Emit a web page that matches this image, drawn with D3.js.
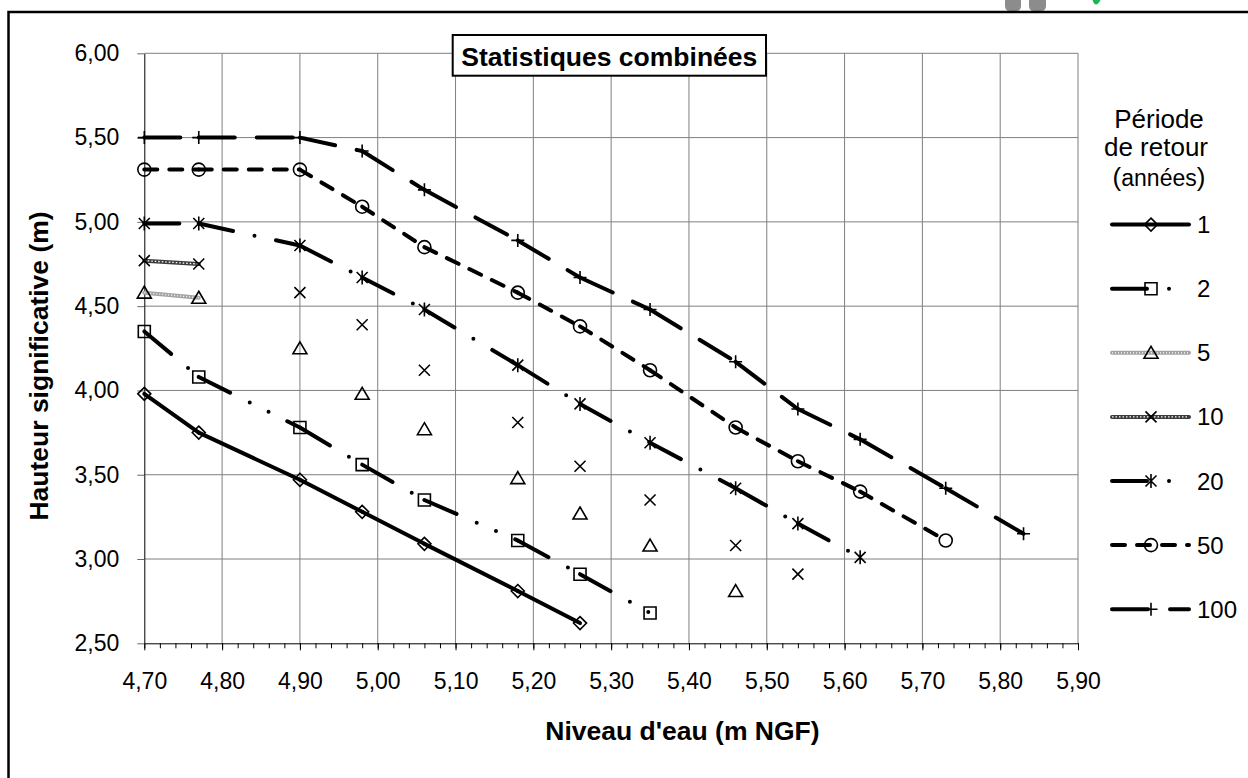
<!DOCTYPE html>
<html>
<head>
<meta charset="utf-8">
<script src="https://cdn.jsdelivr.net/npm/d3@7"></script>
<style>
body { margin: 0; background: #fff; }
svg { display: block; font-family: "Liberation Sans", Arial, sans-serif; }
</style>
</head>
<body>
<svg id="chart"></svg>
<script>
// niveaux d'eau (m NGF), abscisses communes à toutes les séries
const niveaux = [4.70, 4.77, 4.90, 4.98, 5.06, 5.18, 5.26, 5.35, 5.46, 5.54, 5.62, 5.73, 5.83];

// hauteurs significatives (m) par période de retour
const hs_1   = [3.98, 3.75, 3.47, 3.28, 3.09, 2.81, 2.62];
const hs_2   = [4.35, 4.08, 3.78, 3.56, 3.35, 3.11, 2.91, 2.68];
const hs_5   = [4.58, 4.55, 4.25, 3.98, 3.77, 3.48, 3.27, 3.08, 2.81];
const hs_10  = [4.77, 4.75, 4.58, 4.39, 4.12, 3.81, 3.55, 3.35, 3.08, 2.91];
const hs_20  = [4.99, 4.99, 4.86, 4.67, 4.48, 4.15, 3.92, 3.69, 3.42, 3.21, 3.01];
const hs_50  = [5.31, 5.31, 5.31, 5.09, 4.85, 4.58, 4.38, 4.12, 3.78, 3.58, 3.40, 3.11];
const hs_100 = [5.50, 5.50, 5.50, 5.42, 5.19, 4.89, 4.67, 4.48, 4.17, 3.89, 3.71, 3.42, 3.15];

const periodes = ['1', '2', '5', '10', '20', '50', '100'];
const valeurs = [hs_1, hs_2, hs_5, hs_10, hs_20, hs_50, hs_100];
// nombre de points reliés par le trait (les séries 5 et 10 ne sont tracées qu'au début)
const pointsRelies = [7, 8, 2, 2, 11, 12, 13];

const xTicks = [4.70, 4.80, 4.90, 5.00, 5.10, 5.20, 5.30, 5.40, 5.50, 5.60, 5.70, 5.80, 5.90];
const yTicks = [2.50, 3.00, 3.50, 4.00, 4.50, 5.00, 5.50, 6.00];

// style of each series (line pattern + marker)
const styles = [
	{dash: null, couleur: '#000', symbole: 'losange'},
	{dash: '35,22,0,21,0,21', couleur: '#000', symbole: 'carre'},
	{dash: null, couleur: '#a3a3a3', trame: '1,2', symbole: 'triangle'},
	{dash: null, couleur: '#3c3c3c', trame: '1.5,2', symbole: 'croix'},
	{dash: '35,22,0,22', couleur: '#000', symbole: 'etoile'},
	{dash: '13,12', couleur: '#000', symbole: 'cercle'},
	{dash: '36,22', couleur: '#000', symbole: 'plus'}
];

const W = 1248, H = 778;
const plot = {left: 144.3, right: 1078, top: 53.3, bottom: 643.3};

const svg = d3.select('#chart').attr('width', W).attr('height', H);
svg.append('rect').attr('width', W).attr('height', H).attr('fill', '#fff');

const scaleX = d3.scaleLinear().domain([4.70, 5.90]).range([plot.left, plot.right]);
const scaleY = d3.scaleLinear().domain([2.50, 6.00]).range([plot.bottom, plot.top]);

const fmt = d => d3.format('.2f')(d).replace('.', ',');

// logo cut at the top of the page
svg.append('path')
	.attr('d', 'M1005,0 H1021 V6 Q1021,11 1016,11 H1010 Q1005,11 1005,6 Z M1029,0 H1046 V6 Q1046,11 1041,11 H1034 Q1029,11 1029,6 Z')
	.attr('fill', '#8c8c8c');
svg.append('path')
	.attr('d', 'M1092.5,0 H1100.5 Q1098,4.5 1096,4.5 Q1094,4.5 1092.5,0 Z')
	.attr('fill', '#1fb556');

// cadre
svg.append('path')
	.attr('d', 'M8.5,' + H + ' V12 H' + W)
	.attr('fill', 'none')
	.attr('stroke', '#000')
	.attr('stroke-width', 2.5);

// grid
const grid = svg.append('g').attr('class', 'grid');
grid.selectAll('.vgrid')
	.data(xTicks.slice(1))
	.enter()
	.append('line')
	.attr('x1', d => scaleX(d)).attr('x2', d => scaleX(d))
	.attr('y1', plot.top).attr('y2', plot.bottom)
	.attr('stroke', '#7f7f7f').attr('stroke-width', 1);
grid.selectAll('.hgrid')
	.data(yTicks.slice(1))
	.enter()
	.append('line')
	.attr('x1', plot.left).attr('x2', plot.right)
	.attr('y1', d => scaleY(d)).attr('y2', d => scaleY(d))
	.attr('stroke', '#7f7f7f').attr('stroke-width', 1);

// axes
const axeX = svg.append('g')
	.attr('transform', 'translate(0,' + plot.bottom + ')')
	.call(d3.axisBottom(scaleX).tickValues(xTicks).tickSize(7).tickSizeOuter(0).tickPadding(22).tickFormat(fmt));
svg.append('g')
	.attr('transform', 'translate(0,' + plot.bottom + ')')
	.call(d3.axisBottom(scaleX).tickValues(d3.range(0, 61).map(i => 4.70 + i * 0.02)).tickSize(5).tickSizeOuter(0).tickFormat(''))
	.call(g => g.select('.domain').remove());

const axeY = svg.append('g')
	.attr('transform', 'translate(' + plot.left + ',0)')
	.call(d3.axisLeft(scaleY).tickValues(yTicks).tickSize(7).tickSizeOuter(0).tickPadding(18).tickFormat(fmt));
axeY.selectAll('.tick line').attr('stroke', '#6a6a6a');

svg.selectAll('.tick text')
	.style('font-size', '23px')
	.style('font-family', '"Liberation Sans", Arial, sans-serif')
	.attr('fill', '#000');

// axis titles
svg.append('text')
	.attr('x', 682.5).attr('y', 739.5)
	.attr('text-anchor', 'middle')
	.style('font-size', '26.5px').style('font-weight', 'bold')
	.text("Niveau d'eau (m NGF)");

svg.append('text')
	.attr('transform', 'translate(47.5,366) rotate(-90)')
	.attr('text-anchor', 'middle')
	.style('font-size', '26.5px').style('font-weight', 'bold')
	.text('Hauteur significative (m)');

// markers
function symbolPath(type) {
	switch (type) {
		case 'losange': return 'M0,-6.5L6.5,0L0,6.5L-6.5,0Z';
		case 'carre': return 'M-6,-6H6V6H-6Z';
		case 'triangle': return 'M0,-6.5L7,5.5H-7Z';
		case 'croix': return 'M-5.5,-5.5L5.5,5.5M-5.5,5.5L5.5,-5.5';
		case 'etoile': return 'M-5.5,-5.5L5.5,5.5M-5.5,5.5L5.5,-5.5M0,-7V7';
		case 'cercle': return 'M6.5,0A6.5,6.5 0 1 1 -6.5,0A6.5,6.5 0 1 1 6.5,0Z';
		case 'plus': return 'M-6.5,0H6.5M0,-6.5V6.5';
	}
}

function drawSegment(g, st, x1, y1, x2, y2) {
	g.append('line')
		.attr('x1', x1).attr('y1', y1).attr('x2', x2).attr('y2', y2)
		.attr('stroke', st.couleur)
		.attr('stroke-width', 4)
		.attr('stroke-linecap', 'round')
		.attr('stroke-dasharray', st.dash);
	if (st.trame) {
		g.append('line')
			.attr('x1', x1).attr('y1', y1).attr('x2', x2).attr('y2', y2)
			.attr('stroke', '#fff')
			.attr('stroke-width', 1.3)
			.attr('stroke-dasharray', st.trame);
	}
}

const series = periodes.map((p, k) => ({
	periode: p,
	style: styles[k],
	points: valeurs[k].map((v, i) => ({x: niveaux[i], y: v})),
	nRelies: pointsRelies[k]
}));

const gSeries = svg.selectAll('.serie')
	.data(series)
	.enter()
	.append('g')
	.attr('class', 'serie');

gSeries.each(function(s) {
	const g = d3.select(this);
	// Excel restarts the dash pattern at every data point
	d3.pairs(s.points.slice(0, s.nRelies)).forEach(([a, b]) => {
		drawSegment(g, s.style, scaleX(a.x), scaleY(a.y), scaleX(b.x), scaleY(b.y));
	});
	g.selectAll('.marker')
		.data(s.points)
		.enter()
		.append('path')
		.attr('class', 'marker')
		.attr('transform', d => 'translate(' + scaleX(d.x) + ',' + scaleY(d.y) + ')')
		.attr('d', symbolPath(s.style.symbole))
		.attr('fill', 'none')
		.attr('stroke', '#000')
		.attr('stroke-width', 1.6);
});

// title box
svg.append('rect')
	.attr('x', 452.7).attr('y', 35).attr('width', 313.3).attr('height', 40.7)
	.attr('fill', '#fff').attr('stroke', '#000').attr('stroke-width', 2);
svg.append('text')
	.attr('x', 609.3).attr('y', 65.5)
	.attr('text-anchor', 'middle')
	.style('font-size', '26.5px').style('font-weight', 'bold')
	.text('Statistiques combinées');

// legend
const legende = svg.append('g').attr('class', 'legend');
const titreLeg = legende.append('text').attr('text-anchor', 'middle').style('font-size', '26px');
titreLeg.append('tspan').attr('x', 1159).attr('y', 128).text('Période');
titreLeg.append('tspan').attr('x', 1156).attr('y', 156).text('de retour');
const l3 = titreLeg.append('tspan').attr('x', 1159).attr('y', 186);
l3.append('tspan').text('(');
l3.append('tspan').style('font-size', '23px').text('années');
l3.append('tspan').text(')');

series.forEach((s, i) => {
	const yy = 224.6 + i * 64.1;
	const g = legende.append('g');
	drawSegment(g, s.style, 1112, yy, 1189, yy);
	g.append('path')
		.attr('transform', 'translate(1151,' + yy + ')')
		.attr('d', symbolPath(s.style.symbole))
		.attr('fill', 'none')
		.attr('stroke', '#000')
		.attr('stroke-width', 1.6);
	g.append('text')
		.attr('x', 1197).attr('y', yy + 8.5)
		.style('font-size', '24px')
		.text(s.periode);
});
</script>
</body>
</html>
